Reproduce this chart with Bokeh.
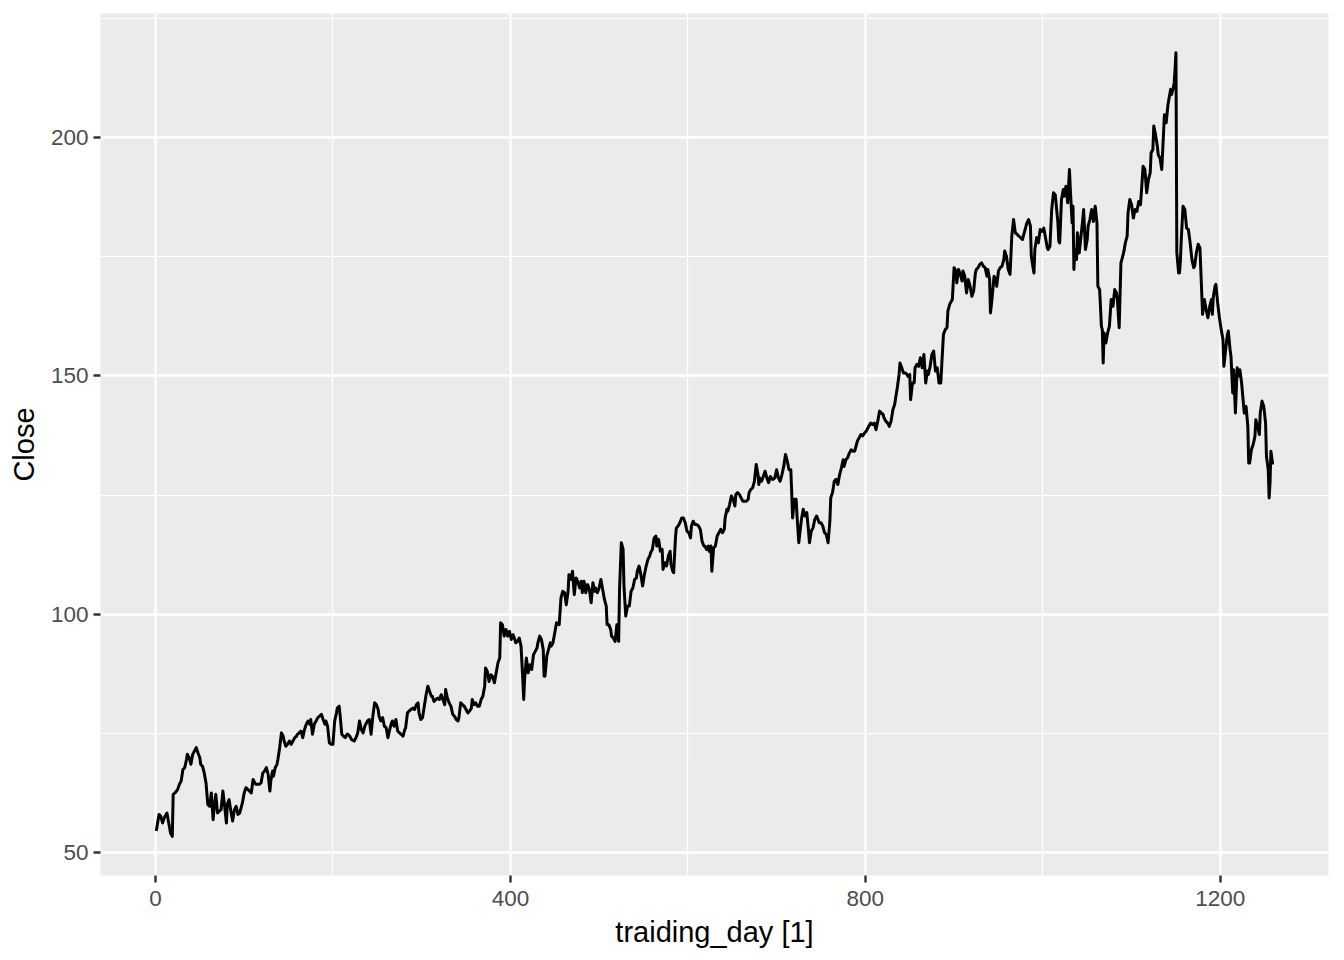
from bokeh.plotting import figure
from bokeh.models import ColumnDataSource, Range1d, FixedTicker
from bokeh.embed import file_html
from bokeh.resources import INLINE

# Close price by trading day in segments
day_seg1 = [1, 4, 6, 8, 10, 13, 15, 17, 19, 20, 22, 25, 27, 29, 31, 33, 35, 36, 38, 40, 42, 44, 46, 48, 50,
            51, 53, 55, 57, 59, 61, 63, 65, 66, 68, 70, 72, 74, 76, 78, 80, 81, 83, 85, 87, 89, 91, 93, 95, 96,
            98, 100, 102, 106, 108, 110]
close_seg1 = [54.5, 58.0, 57.6, 56.2, 57.3, 58.3, 56.2, 54.1, 53.4, 62.2, 62.5, 63.2, 64.3, 65.0, 67.4, 67.8, 69.5,
              70.6, 69.9, 68.5, 70.6, 71.3, 72.0, 70.9, 69.9, 68.5, 68.1, 66.7, 64.6, 60.1, 59.7, 62.5, 56.9, 59.0,
              62.2, 58.3, 58.7, 59.0, 62.9, 59.7, 56.2, 60.1, 61.1, 58.7, 56.6, 59.0, 59.7, 58.0, 58.3, 59.0, 60.4,
              62.5, 63.6, 62.9, 62.5, 65.3]

day_seg2 = [113, 117, 119, 121, 123, 125, 127, 129, 130, 132, 133, 135, 137, 138, 140, 142, 144, 145, 147, 149, 151,
            153, 155, 157, 159, 160, 162, 164, 166, 168, 170, 172, 174, 175, 177, 179, 181, 183, 185, 187, 189, 191,
            192, 194, 196, 198, 200, 202, 204, 205, 207, 208, 210, 212, 214, 216, 217, 219, 221]
close_seg2 = [64.3, 64.3, 64.6, 66.7, 67.1, 67.8, 66.4, 62.9, 65.0, 67.1, 66.0, 67.8, 68.5, 69.5, 72.0, 75.1, 74.4,
              73.4, 72.3, 72.7, 73.4, 72.7, 73.4, 74.1, 74.4, 74.8, 75.1, 75.5, 74.1, 75.8, 76.9, 77.6, 76.9, 77.9,
              74.8, 76.9, 77.6, 78.3, 78.6, 79.0, 77.9, 76.9, 77.6, 76.5, 73.0, 72.7, 72.7, 77.6, 79.3, 80.3, 80.7,
              79.0, 74.8, 74.4, 74.1, 74.8, 74.8, 74.4, 73.7]

day_seg3 = [224, 226, 228, 230, 232, 234, 236, 237, 239, 241, 243, 245, 247, 249, 251, 252, 254, 256, 258, 260, 262,
            264, 266, 267, 269, 271, 273, 275, 277, 279, 281, 282, 284, 286, 288, 290, 292, 294, 296, 297, 299, 301,
            303, 305, 307, 309, 311, 312, 314, 316, 318, 320, 322, 324, 326, 327, 329, 331, 333, 335]
close_seg3 = [73.4, 74.1, 75.1, 77.6, 75.8, 75.1, 76.5, 76.9, 77.6, 77.9, 74.8, 78.6, 81.4, 81.0, 80.0, 78.6, 77.6,
              78.3, 76.5, 76.2, 74.1, 75.8, 77.2, 77.6, 76.5, 77.9, 75.5, 75.1, 74.8, 74.4, 75.8, 76.2, 79.3, 79.7,
              80.0, 80.3, 80.0, 81.0, 81.4, 79.3, 77.9, 78.3, 80.7, 83.1, 84.9, 83.8, 82.8, 82.8, 81.7, 82.1, 82.4,
              82.1, 83.1, 82.1, 81.0, 84.2, 82.4, 81.4, 80.7, 79.0]

day_seg4 = [337, 339, 341, 342, 344, 346, 348, 350, 352, 354, 356, 357, 359, 361, 363, 365, 367, 369, 371, 372, 374,
            376, 378, 380, 382, 384, 386, 388, 389, 391, 393, 395, 397, 399, 401, 403, 405, 406, 408, 410, 412, 414,
            415, 416, 418, 420, 422, 424, 426, 428, 430, 431, 433, 435, 437, 438, 439, 441, 443, 445, 446, 448]
close_seg4 = [78.6, 77.9, 77.6, 78.3, 81.4, 81.0, 80.7, 80.0, 79.3, 79.7, 80.3, 82.1, 81.0, 81.4, 80.7, 80.7, 82.1,
              82.8, 84.9, 88.7, 88.0, 85.9, 87.3, 86.9, 85.6, 87.7, 89.8, 90.8, 98.2, 97.8, 95.4, 96.8, 95.4, 96.4,
              94.7, 95.7, 94.7, 94.0, 94.3, 95.0, 93.3, 86.3, 82.1, 86.3, 90.8, 87.7, 89.4, 88.4, 91.5, 92.2, 92.9,
              94.0, 95.4, 94.7, 92.6, 87.0, 87.0, 91.2, 92.6, 94.0, 93.3, 94.0]

day_seg5 = [450, 452, 455, 457, 459, 461, 463, 465, 466, 468, 470, 472, 474, 476, 478, 480, 481, 483, 485, 487, 489,
            491, 493, 495, 496, 498, 500, 502, 504, 506, 508, 509, 511, 513, 514, 516, 518, 520, 522, 523, 525, 527,
            528, 530, 532, 534, 536, 538, 540, 542, 543, 545, 547, 549, 551, 553, 555, 557, 558, 560]
close_seg5 = [96.1, 98.2, 97.8, 103.4, 104.8, 104.5, 102.0, 104.8, 108.3, 107.3, 109.0, 104.1, 107.6, 106.9, 105.5,
              106.9, 104.5, 106.9, 104.5, 106.2, 105.2, 102.4, 106.6, 104.8, 105.5, 104.5, 105.5, 107.3, 105.2,
              103.1, 101.7, 97.8, 97.8, 96.8, 95.4, 95.0, 94.3, 97.8, 94.3, 105.2, 115.0, 113.6, 105.9, 99.6, 101.7,
              101.7, 104.8, 105.5, 107.3, 107.6, 109.0, 110.1, 108.3, 105.9, 108.3, 110.1, 111.5, 112.2, 112.9, 113.6]

day_seg6 = [562, 564, 565, 567, 569, 571, 572, 574, 576, 578, 580, 581, 583, 584, 586, 587, 589, 591, 593, 595, 597,
            599, 601, 603, 604, 606, 608, 610, 612, 614, 616, 618, 619, 621, 623, 624, 626, 627, 629, 631, 633, 635,
            637, 639, 641, 642, 644, 645, 647, 649, 651, 653, 654, 656, 658, 660, 662, 664, 666, 668, 669, 671, 673,
            675]
close_seg6 = [116.0, 116.4, 114.3, 115.7, 113.2, 113.6, 109.4, 110.8, 110.1, 112.2, 113.2, 110.4, 109.0, 108.7,
              116.0, 118.1, 118.5, 119.2, 120.2, 120.2, 119.2, 117.4, 117.1, 116.0, 118.5, 119.5, 118.8, 118.8,
              118.5, 117.8, 115.3, 114.3, 114.3, 113.6, 114.3, 113.2, 114.3, 109.0, 113.9, 114.3, 116.4, 117.1,
              117.8, 117.1, 117.8, 120.2, 122.0, 121.6, 123.0, 124.8, 124.1, 122.7, 125.1, 125.5, 125.1, 124.4,
              123.7, 123.7, 123.7, 124.1, 125.5, 126.2, 126.5, 127.9]

day_seg7 = [677, 679, 680, 681, 683, 685, 687, 689, 691, 693, 695, 696, 698, 700, 702, 704, 706, 708, 710, 712, 714,
            716, 717, 718, 720, 722, 723, 725, 726, 728, 730, 732, 734, 736, 737, 739, 741, 743, 745, 746, 748, 750,
            752, 754, 756, 758, 760, 761, 763, 765, 767, 769, 771, 773, 775, 776, 778, 780, 782, 784, 786, 788]
close_seg7 = [131.4, 129.3, 127.2, 128.6, 127.9, 128.9, 130.0, 128.6, 127.6, 128.9, 128.3, 128.3, 128.6, 130.3,
              128.6, 127.9, 129.3, 131.0, 133.5, 132.1, 130.3, 130.3, 125.5, 120.2, 124.1, 124.1, 120.6, 115.0,
              116.7, 119.9, 122.0, 120.6, 121.3, 117.4, 115.0, 117.4, 118.1, 119.9, 120.6, 120.2, 119.2, 119.2,
              118.5, 117.1, 116.7, 115.0, 119.5, 124.4, 125.5, 127.9, 128.3, 127.2, 129.3, 130.7, 132.4, 131.0,
              132.4, 132.8, 133.8, 134.5, 134.2, 134.2]

day_seg8 = [790, 791, 793, 795, 797, 799, 801, 803, 805, 806, 808, 810, 812, 814, 816, 818, 820, 821, 823, 825, 827,
            829, 831, 833, 835, 836, 838, 839, 841, 843, 845, 847, 848, 850, 851, 853, 855, 856, 858, 860, 862, 864,
            866, 868, 870, 871, 873, 875, 877, 879, 881, 883, 885, 886, 888, 890, 892, 893, 895, 897, 898, 900]
close_seg8 = [135.6, 136.3, 137.0, 137.7, 137.4, 138.0, 138.4, 139.1, 139.8, 140.1, 139.8, 140.1, 138.7, 140.5,
              142.6, 142.2, 141.9, 141.2, 140.5, 140.1, 139.4, 140.5, 142.9, 144.0, 146.4, 147.5, 150.3, 152.7,
              151.7, 150.6, 150.6, 150.3, 149.9, 150.3, 145.0, 148.5, 148.5, 151.7, 152.4, 152.0, 153.8, 151.7,
              154.5, 148.5, 151.0, 150.3, 152.0, 154.5, 155.2, 151.0, 151.7, 148.5, 148.5, 152.0, 158.7, 159.7,
              160.1, 163.6, 165.0, 165.7, 166.0, 172.7]

day_seg9 = [902, 903, 905, 907, 909, 910, 912, 914, 916, 918, 920, 922, 924, 925, 927, 929, 931, 933, 935, 937, 938,
            940, 941, 943, 945, 947, 948, 950, 952, 954, 956, 957, 959, 961, 963, 964, 965, 967, 969, 971, 973, 975,
            977, 978, 980, 982, 984, 986, 987, 989, 990, 991, 993, 995, 997, 999, 1001, 1003, 1005, 1006, 1008,
            1010, 1012]
close_seg9 = [172.0, 169.5, 172.3, 171.3, 169.9, 172.0, 170.9, 167.4, 170.2, 168.8, 166.7, 167.8, 171.6, 172.3,
              172.7, 173.4, 173.7, 173.0, 172.7, 170.9, 172.3, 170.2, 163.2, 166.7, 170.9, 170.2, 168.8, 172.0,
              172.7, 173.0, 174.4, 176.2, 175.1, 172.3, 171.3, 175.1, 179.3, 182.8, 180.0, 179.7, 179.3, 179.0,
              178.6, 179.3, 180.7, 182.1, 182.8, 181.4, 175.1, 172.7, 171.6, 176.5, 179.0, 177.9, 180.7, 180.3,
              181.0, 179.0, 176.9, 176.5, 177.2, 184.9, 188.4]

day_seg10 = [1014, 1017, 1018, 1019, 1021, 1023, 1024, 1026, 1028, 1030, 1031, 1033, 1034, 1035, 1036, 1038, 1039,
             1041, 1043, 1045, 1046, 1048, 1050, 1051, 1053, 1055, 1057, 1059, 1061, 1062, 1064, 1066, 1067, 1068,
             1069, 1071, 1073, 1075, 1077, 1079, 1081, 1083, 1084, 1086, 1088, 1089, 1091, 1093, 1095, 1096, 1098,
             1100, 1102, 1104, 1106, 1108, 1110, 1111, 1113, 1115, 1117, 1119, 1121, 1122, 1124, 1125]
close_seg10 = [188.0, 182.1, 178.2, 177.9, 187.0, 189.1, 187.7, 189.8, 186.3, 193.3, 189.1, 182.1, 185.6, 172.3,
               176.5, 174.4, 180.0, 175.8, 179.3, 182.8, 184.9, 176.5, 178.6, 181.4, 182.8, 184.9, 182.4, 185.6,
               182.1, 168.8, 168.1, 160.4, 159.7, 152.7, 159.0, 156.9, 159.0, 160.4, 166.0, 164.6, 168.1, 167.4,
               166.0, 160.1, 173.7, 174.4, 175.8, 177.9, 179.3, 184.2, 187.0, 185.9, 183.1, 184.9, 184.5, 186.6,
               185.9, 188.4, 194.0, 193.3, 188.4, 191.2, 192.6, 196.8, 197.5, 202.4]

day_seg11 = [1127, 1129, 1130, 1132, 1134, 1136, 1137, 1139, 1141, 1142, 1144, 1145, 1147, 1148, 1149, 1150, 1151,
             1153, 1154, 1155, 1156, 1158, 1160, 1162, 1164, 1166, 1168, 1170, 1171, 1173, 1175, 1177, 1178, 1180,
             1182, 1184, 1186, 1188]
close_seg11 = [200.6, 198.2, 196.4, 195.7, 193.3, 200.9, 204.8, 203.1, 206.9, 208.0, 210.1, 209.0, 210.4, 211.5,
               214.3, 217.8, 175.8, 171.6, 171.6, 174.1, 178.6, 185.6, 184.9, 181.0, 180.7, 177.9, 174.4, 172.7,
               173.0, 175.8, 177.6, 176.9, 172.3, 162.9, 166.0, 163.9, 162.2, 164.6]

day_seg12 = [1190, 1191, 1192, 1194, 1195, 1197, 1199, 1201, 1203, 1204, 1206, 1208, 1209, 1211, 1212, 1214, 1215,
             1217, 1218, 1219, 1220, 1222, 1224, 1226, 1227, 1229, 1231, 1232, 1233, 1235, 1237, 1239, 1240, 1242,
             1244, 1245, 1247, 1249, 1251, 1252, 1254, 1255, 1256, 1257, 1259]
close_seg12 = [166.0, 162.9, 166.4, 168.8, 169.2, 165.3, 162.2, 159.7, 157.6, 152.0, 155.5, 158.7, 159.4, 155.5,
               154.1, 146.4, 151.3, 142.2, 147.1, 151.7, 149.9, 151.3, 148.5, 144.3, 142.2, 143.6, 139.4, 131.7,
               131.7, 134.5, 135.6, 137.3, 140.8, 139.4, 137.7, 142.2, 144.7, 143.6, 140.1, 133.1, 130.3, 124.4,
               127.6, 134.2, 131.4]

x_ticks = [0, 400, 800, 1200]
x_minor_ticks = [200, 600, 1000]
y_ticks = [50, 100, 150, 200]
y_minor_ticks = [75, 125, 175, 225]
x_title = "traiding_day [1]"
y_title = "Close"

day_segs = [day_seg1, day_seg2, day_seg3, day_seg4, day_seg5, day_seg6,
            day_seg7, day_seg8, day_seg9, day_seg10, day_seg11, day_seg12]
close_segs = [close_seg1, close_seg2, close_seg3, close_seg4, close_seg5, close_seg6,
              close_seg7, close_seg8, close_seg9, close_seg10, close_seg11, close_seg12]
trading_day, close = [], []
for d, c in zip(day_segs, close_segs):
    assert len(d) == len(c), (d[0], len(d), len(c))
    trading_day += d
    close += c

src = ColumnDataSource(data=dict(day=trading_day, close=close))

# ggplot-like 5% expansion of the data range
xlo, xhi = min(trading_day), max(trading_day)
ylo, yhi = min(close), max(close)
xpad = (xhi - xlo) * 0.05
ypad = (yhi - ylo) * 0.05

p = figure(frame_width=1228, frame_height=862,
           x_range=Range1d(xlo - xpad, xhi + xpad), y_range=Range1d(ylo - ypad, yhi + ypad),
           output_backend="svg", toolbar_location=None,
           min_border_left=100, min_border_right=14, min_border_top=13, min_border_bottom=76,
           x_axis_label=x_title, y_axis_label=y_title)

p.background_fill_color = "#EBEBEB"
p.border_fill_color = "white"
p.outline_line_color = None

p.xaxis.ticker = FixedTicker(ticks=x_ticks, minor_ticks=x_minor_ticks)
p.yaxis.ticker = FixedTicker(ticks=y_ticks, minor_ticks=y_minor_ticks)

for g in (p.xgrid, p.ygrid):
    g.grid_line_color = "white"
    g.grid_line_width = 2.4
    g.minor_grid_line_color = "white"
    g.minor_grid_line_width = 1.2

for ax in (p.xaxis, p.yaxis):
    ax.axis_line_color = None
    ax.major_tick_line_color = "#333333"
    ax.major_tick_line_width = 2.4
    ax.major_tick_out = 7
    ax.major_tick_in = 0
    ax.minor_tick_line_color = None
    ax.major_label_text_font = "Liberation Sans"
    ax.major_label_text_font_size = "22.5px"
    ax.major_label_text_color = "#4D4D4D"
    ax.axis_label_text_font = "Liberation Sans"
    ax.axis_label_text_font_size = "29px"
    ax.axis_label_text_color = "black"
    ax.axis_label_text_font_style = "normal"

p.xaxis.major_label_standoff = 8
p.xaxis.axis_label_standoff = 7
p.yaxis.major_label_standoff = 5
p.yaxis.axis_label_standoff = 8

p.line("day", "close", source=src, line_color="black", line_width=3.0, line_join="round")

open("out.html", "w").write(file_html(p, INLINE))
